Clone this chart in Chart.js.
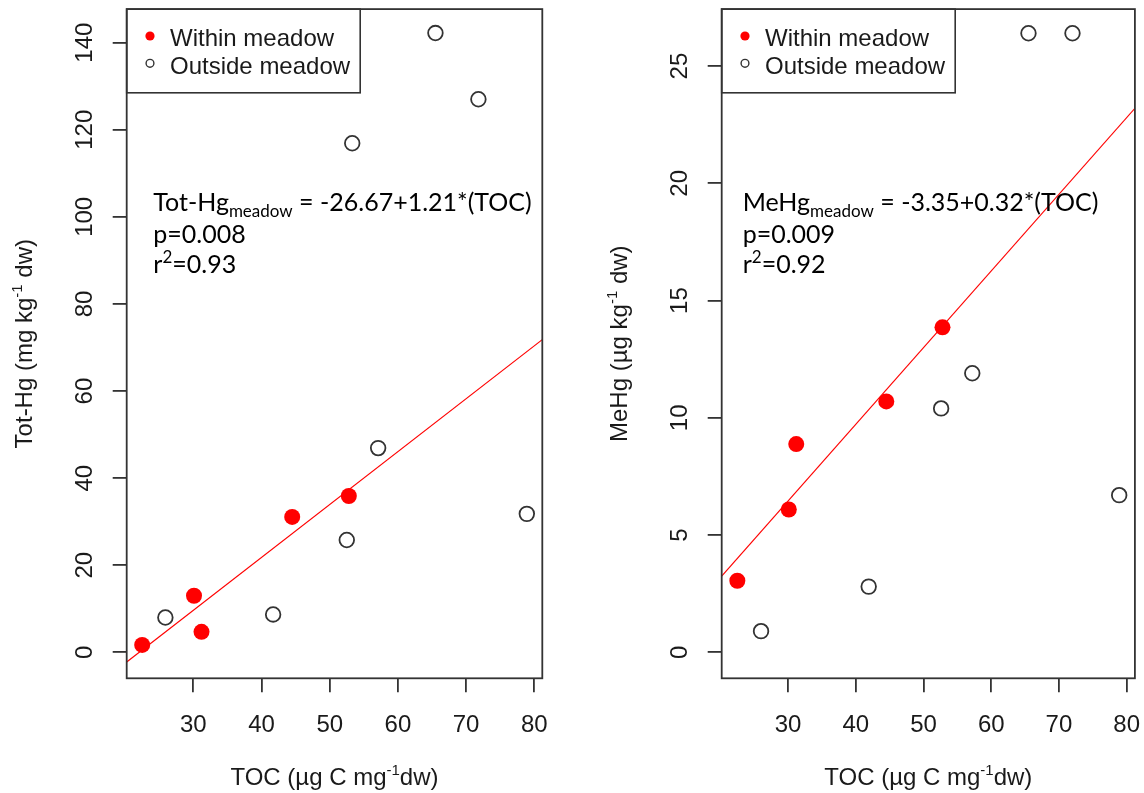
<!DOCTYPE html>
<html>
<head>
<meta charset="utf-8">
<script src="https://cdn.jsdelivr.net/npm/chart.js@4.4.0/dist/chart.umd.min.js"></script>
<style>
  html, body { margin: 0; padding: 0; background: #fff; }
  #wrap { position: relative; width: 1144px; height: 793px; }
  canvas { position: absolute; top: 0; }
  #left { left: 0; }
  #right { left: 572px; }
</style>
</head>
<body>
<div id="wrap">
  <canvas id="left" width="572" height="793"></canvas>
  <canvas id="right" width="572" height="793"></canvas>
</div>
<script>
// tick labels
const xTicks = [30, 40, 50, 60, 70, 80];
const yTicksTotHg = [0, 20, 40, 60, 80, 100, 120, 140];
const yTicksMeHg = [0, 5, 10, 15, 20, 25];

// samples within the meadow (same TOC in both panels)
const tocWithin = [22.5, 30.1, 31.2, 44.5, 52.8];
const totHgWithin = [1.7, 13.0, 4.7, 31.1, 35.9];
const meHgWithin = [3.05, 6.09, 8.88, 10.7, 13.86];

// samples outside the meadow
const tocOutsideTotHg = [25.9, 41.7, 52.5, 53.3, 57.1, 65.5, 71.8, 78.9];
const totHgOutside = [8.0, 8.7, 25.8, 116.9, 46.9, 142.2, 127.0, 31.8];
const tocOutsideMeHg = [26.0, 41.9, 52.6, 57.2, 65.5, 72.0, 78.9];
const meHgOutside = [0.9, 2.8, 10.4, 11.9, 26.4, 26.4, 6.7];

// axis ranges (R style, padded)
const xRangeTotHg = [20.23, 81.17];
const yRangeTotHg = [-5.96, 147.7];
const xRangeMeHg = [20.19, 81.22];
const yRangeMeHg = [-1.11, 27.43];

// regression lines, value at each end of the x range
const fitTotHg = [-2.2, 71.8];
const fitMeHg = [3.25, 23.2];

const legendLabels = ['Within meadow', 'Outside meadow'];

const AXIS_FONT = '24px "Liberation Sans", Arial, sans-serif';
const SUP_FONT = '15px "Liberation Sans", Arial, sans-serif';
const NOTE_FONT = '25px Lato, "Open Sans", sans-serif';
const NOTE_SMALL = '17px Lato, "Open Sans", sans-serif';
const INK = '#1a1a1a';
const FRAME = '#333';

function pts(xs, ys) {
  return xs.map((x, i) => ({ x, y: ys[i] }));
}

// draw text made of pieces: [text, 0 normal | 1 sup | -1 sub]
function drawRich(ctx, parts, x, y, font, small, align) {
  let w = 0;
  parts.forEach(p => {
    ctx.font = p[1] ? small : font;
    w += ctx.measureText(p[0]).width;
  });
  let cx = align === 'center' ? x - w / 2 : x;
  ctx.textAlign = 'left';
  ctx.textBaseline = 'alphabetic';
  parts.forEach(p => {
    ctx.font = p[1] ? small : font;
    const dy = p[1] === 1 ? -10 : p[1] === -1 ? 6 : 0;
    ctx.fillText(p[0], cx, y + dy);
    cx += ctx.measureText(p[0]).width;
  });
}

const rFrame = {
  id: 'rFrame',
  afterDraw(chart, args, opts) {
    const ctx = chart.ctx;
    const a = chart.chartArea;
    const xs = chart.scales.x;
    const ys = chart.scales.y;
    ctx.save();

    // box around the plot
    ctx.strokeStyle = FRAME;
    ctx.lineWidth = 1.8;
    ctx.strokeRect(a.left, a.top, a.right - a.left, a.bottom - a.top);

    // tick labels
    ctx.fillStyle = INK;
    ctx.font = AXIS_FONT;
    ctx.textAlign = 'center';
    ctx.textBaseline = 'alphabetic';
    xs.ticks.forEach(t => {
      ctx.fillText(String(t.value), xs.getPixelForValue(t.value), a.bottom + 53.4);
    });
    ys.ticks.forEach(t => {
      ctx.save();
      ctx.translate(a.left - 34.5, ys.getPixelForValue(t.value));
      ctx.rotate(-Math.PI / 2);
      ctx.fillText(String(t.value), 0, 0);
      ctx.restore();
    });

    // axis titles
    drawRich(ctx, [['TOC (µg C mg', 0], ['-1', 1], ['dw)', 0]],
      (a.left + a.right) / 2, a.bottom + 107, AXIS_FONT, SUP_FONT, 'center');
    ctx.save();
    ctx.translate(a.left - 95, (a.top + a.bottom) / 2);
    ctx.rotate(-Math.PI / 2);
    drawRich(ctx, opts.yTitle, 0, 0, AXIS_FONT, SUP_FONT, 'center');
    ctx.restore();

    // legend
    const ds = chart.data.datasets;
    ctx.strokeStyle = FRAME;
    ctx.lineWidth = 1.6;
    ctx.strokeRect(a.left, a.top, 233.5, 83.7);
    ctx.beginPath();
    ctx.arc(a.left + 23.3, 36, 4.6, 0, Math.PI * 2);
    ctx.fillStyle = ds[1].backgroundColor;
    ctx.fill();
    ctx.beginPath();
    ctx.arc(a.left + 23.3, 63.3, 3.9, 0, Math.PI * 2);
    ctx.strokeStyle = ds[2].borderColor;
    ctx.lineWidth = 1.4;
    ctx.stroke();
    ctx.fillStyle = INK;
    ctx.font = AXIS_FONT;
    ctx.textAlign = 'left';
    ctx.fillText(ds[1].label, a.left + 43.3, 46);
    ctx.fillText(ds[2].label, a.left + 43.3, 74);

    // regression note
    ctx.fillStyle = '#000';
    const nx = a.left + opts.noteX;
    drawRich(ctx, opts.note, nx, 211, NOTE_FONT, NOTE_SMALL, 'left');
    drawRich(ctx, [[opts.p, 0]], nx, 242.5, NOTE_FONT, NOTE_SMALL, 'left');
    drawRich(ctx, [['r', 0], ['2', 1], [opts.r2, 0]], nx, 273, NOTE_FONT, NOTE_SMALL, 'left');

    ctx.restore();
  }
};

function makeChart(id, c) {
  const tickGrid = {
    drawOnChartArea: false,
    drawTicks: true,
    tickLength: 14,
    color: FRAME,
    lineWidth: 1.8
  };
  return new Chart(document.getElementById(id), {
    type: 'scatter',
    data: {
      datasets: [
        {
          type: 'line',
          label: 'fit',
          data: pts(c.xRange, c.fit),
          borderColor: '#ff0000',
          borderWidth: 1.2,
          pointRadius: 0,
          fill: false
        },
        {
          label: legendLabels[0],
          data: pts(tocWithin, c.within),
          backgroundColor: '#ff0000',
          borderWidth: 0,
          pointRadius: 8
        },
        {
          label: legendLabels[1],
          data: pts(c.tocOut, c.outside),
          backgroundColor: 'rgba(0,0,0,0)',
          borderColor: '#333',
          borderWidth: 1.8,
          pointRadius: 7.3
        }
      ]
    },
    options: {
      responsive: false,
      animation: false,
      events: [],
      layout: { padding: { left: 0, top: 8, right: 572 - c.plotRight, bottom: 0 } },
      scales: {
        x: {
          type: 'linear',
          min: c.xRange[0],
          max: c.xRange[1],
          afterBuildTicks: s => { s.ticks = xTicks.map(v => ({ value: v })); },
          afterFit: s => { s.height = 793 - 678.3; },
          ticks: { display: false },
          grid: tickGrid,
          border: { display: false }
        },
        y: {
          type: 'linear',
          min: c.yRange[0],
          max: c.yRange[1],
          afterBuildTicks: s => { s.ticks = c.yTicks.map(v => ({ value: v })); },
          afterFit: s => { s.width = c.plotLeft; },
          ticks: { display: false },
          grid: tickGrid,
          border: { display: false }
        }
      },
      plugins: {
        legend: { display: false },
        tooltip: { enabled: false },
        rFrame: c.frame
      }
    },
    plugins: [rFrame]
  });
}

makeChart('left', {
  plotLeft: 126.7,
  plotRight: 542.3,
  xRange: xRangeTotHg,
  yRange: yRangeTotHg,
  yTicks: yTicksTotHg,
  fit: fitTotHg,
  within: totHgWithin,
  tocOut: tocOutsideTotHg,
  outside: totHgOutside,
  frame: {
    yTitle: [['Tot-Hg (mg kg', 0], ['-1', 1], [' dw)', 0]],
    noteX: 26.6,
    note: [['Tot-Hg', 0], ['meadow', -1], [' = -26.67+1.21*(TOC)', 0]],
    p: 'p=0.008',
    r2: '=0.93'
  }
});

makeChart('right', {
  plotLeft: 149.7,
  plotRight: 564,
  xRange: xRangeMeHg,
  yRange: yRangeMeHg,
  yTicks: yTicksMeHg,
  fit: fitMeHg,
  within: meHgWithin,
  tocOut: tocOutsideMeHg,
  outside: meHgOutside,
  frame: {
    yTitle: [['MeHg (µg kg', 0], ['-1', 1], [' dw)', 0]],
    noteX: 21,
    note: [['MeHg', 0], ['meadow', -1], [' = -3.35+0.32*(TOC)', 0]],
    p: 'p=0.009',
    r2: '=0.92'
  }
});
</script>
</body>
</html>
